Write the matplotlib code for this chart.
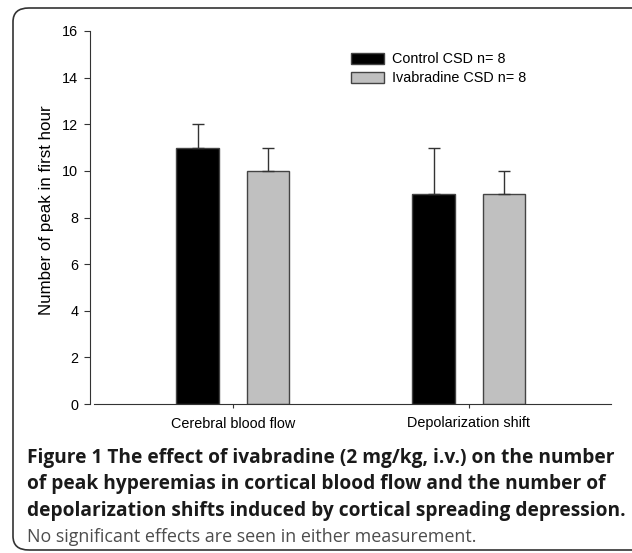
import numpy as np
import matplotlib
matplotlib.use('Agg')
import matplotlib.pyplot as plt
from matplotlib.patches import FancyBboxPatch

categories = ['Cerebral blood flow', 'Depolarization shift']
control = [11, 9]
control_err = [1, 2]
ivabradine = [10, 9]
ivabradine_err = [1, 1]
series_labels = ['Control CSD n= 8', 'Ivabradine CSD n= 8']
yticks = [0, 2, 4, 6, 8, 10, 12, 14, 16]

plt.rcParams['font.family'] = ['Liberation Sans', 'DejaVu Sans']

fig = plt.figure(figsize=(6.32, 5.53), dpi=100)

# rounded frame round the whole figure panel (right side runs off the image)
frame = FancyBboxPatch((13/632, 1 - 550/553), 640/632, 542/553,
                       boxstyle='round,pad=0,rounding_size=0.025',
                       transform=fig.transFigure, fill=False,
                       edgecolor='#333333', linewidth=1.2, clip_on=False)
fig.patches.append(frame)

ax = fig.add_axes([90/632, 1 - 404/553, 521/632, 373/553])
x = np.arange(len(categories))
w = 0.179
off = 0.149
ax.bar(x - off, control, w, color='black', edgecolor='#444444', linewidth=1,
       label=series_labels[0])
ax.bar(x + off, ivabradine, w, color='#c0c0c0', edgecolor='#444444', linewidth=1,
       label=series_labels[1])
ax.errorbar(x - off, control, yerr=[np.zeros(2), control_err], fmt='none',
            ecolor='#333333', elinewidth=1, capsize=4, capthick=1)
ax.errorbar(x + off, ivabradine, yerr=[np.zeros(2), ivabradine_err], fmt='none',
            ecolor='#333333', elinewidth=1, capsize=4, capthick=1)

ax.set_xlim(-0.605, 1.603)
ax.set_ylim(0, 16)
ax.set_yticks(yticks)
ax.set_xticks(x)
ax.set_xticklabels(categories, fontsize=10.4)
ax.tick_params(axis='y', direction='out', length=4.5, labelsize=10.4, pad=4,
               color='#333333')
ax.tick_params(axis='x', direction='out', length=3, pad=6, color='#333333')
for s in ['top', 'right']:
    ax.spines[s].set_visible(False)
for s in ['left', 'bottom']:
    ax.spines[s].set_color('#333333')
ax.spines['bottom'].set_bounds(-0.59, 1.603)
ax.set_ylabel('Number of peak in first hour', fontsize=12.2, labelpad=6)
ax.yaxis.set_label_coords(-0.07, 0.52)

leg = ax.legend(loc='upper left', bbox_to_anchor=(0.489, 0.958), frameon=False,
                fontsize=10.4, handlelength=2.3, handleheight=0.8,
                handletextpad=0.6, labelspacing=0.35, borderaxespad=0)

cap_font = ['Open Sans', 'DejaVu Sans']
lines = ['Figure 1 The effect of ivabradine (2 mg/kg, i.v.) on the number',
         'of peak hyperemias in cortical blood flow and the number of',
         'depolarization shifts induced by cortical spreading depression.']
ys = [458, 484, 511]
for t, yy in zip(lines, ys):
    fig.text(27/632, 1 - yy/553, t, fontsize=13.75, fontweight='bold',
             family=cap_font, color='#1a1a1a', va='center')
fig.text(27/632, 1 - 537/553, 'No significant effects are seen in either measurement.',
         fontsize=12.9, family=cap_font, color='#4d4d4d', va='center')

fig.savefig('out.png', dpi=100)
